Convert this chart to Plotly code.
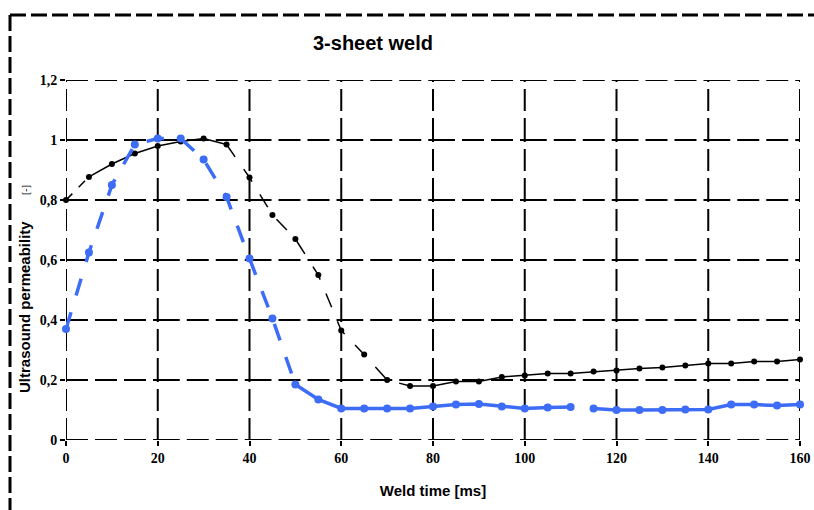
import plotly.graph_objects as go

# Weld time samples [ms]
weld_time = list(range(0, 165, 5))

# Ultrasound permeability, black series
perm_black = [0.80, 0.877, 0.92, 0.955, 0.98, 0.995, 1.005, 0.985, 0.875, 0.75,
              0.67, 0.55, 0.365, 0.285, 0.20, 0.18, 0.18, 0.195, 0.195, 0.21,
              0.215, 0.222, 0.222, 0.228, 0.232, 0.238, 0.242, 0.248, 0.255,
              0.255, 0.262, 0.262, 0.268]

# Ultrasound permeability, blue series
perm_blue = [0.37, 0.625, 0.85, 0.985, 1.005, 1.005, 0.935, 0.81, 0.605, 0.405,
             0.185, 0.135, 0.105, 0.105, 0.105, 0.105, 0.112, 0.118, 0.12, 0.112,
             0.105, 0.108, 0.11, 0.105, 0.10, 0.10, 0.10, 0.102, 0.102, 0.118,
             0.118, 0.115, 0.118]

x_ticks = list(range(0, 161, 20))
y_ticks = [0, 0.2, 0.4, 0.6, 0.8, 1.0, 1.2]
y_tick_text = ["0", "0,2", "0,4", "0,6", "0,8", "1", "1,2"]

BLUE = "#3d6cf7"
BLACK = "#000000"
GRID_DASH = "22px,7px"

fig = go.Figure()

# dashed grid: each cell edge is its own segment so the dash pattern
# restarts at every grid crossing
grid_shapes = []
for xv in x_ticks:
    for y0, y1 in zip(y_ticks[:-1], y_ticks[1:]):
        grid_shapes.append(dict(type="line", xref="x", yref="y", x0=xv, x1=xv, y0=y0, y1=y1,
                                line=dict(color=BLACK, width=2, dash=GRID_DASH), layer="below"))
for yv in y_ticks:
    for x0, x1 in zip(x_ticks[:-1], x_ticks[1:]):
        grid_shapes.append(dict(type="line", xref="x", yref="y", x0=x0, x1=x1, y0=yv, y1=yv,
                                line=dict(color=BLACK, width=2, dash=GRID_DASH), layer="below"))

# black curve: line style changes along the curve (index ranges)
black_segments = [(0, 1, "dash"), (1, 7, "solid"), (7, 15, "longdash"), (15, 32, "solid")]
for a, b, d in black_segments:
    fig.add_trace(go.Scatter(
        x=weld_time[a:b + 1], y=perm_black[a:b + 1], mode="lines",
        line=dict(color=BLACK, width=1.5, dash=d), showlegend=False, hoverinfo="skip"))
fig.add_trace(go.Scatter(
    x=weld_time, y=perm_black, mode="markers", cliponaxis=False,
    marker=dict(color=BLACK, size=6), showlegend=False))

# blue curve: dashed during the drop, solid plateau with a small break
blue_segments = [(0, 10, "longdash"), (10, 22, "solid"), (23, 32, "solid")]
for a, b, d in blue_segments:
    fig.add_trace(go.Scatter(
        x=weld_time[a:b + 1], y=perm_blue[a:b + 1], mode="lines",
        line=dict(color=BLUE, width=3.5, dash=d), showlegend=False, hoverinfo="skip"))
fig.add_trace(go.Scatter(
    x=weld_time, y=perm_blue, mode="markers", cliponaxis=False,
    marker=dict(color=BLUE, size=8), showlegend=False))

tick_font = dict(family="Liberation Serif, Times New Roman, serif", size=14, color=BLACK)

fig.update_xaxes(
    range=[x_ticks[0], x_ticks[-1]], tickvals=x_ticks, ticktext=["<b>%d</b>" % t for t in x_ticks],
    showgrid=False, zeroline=False, showline=False, automargin=False, ticks="outside",
    ticklen=5, tickwidth=2, tickcolor=BLACK, tickfont=tick_font,
    title=dict(text="<b>Weld time [ms]</b>", standoff=20,
               font=dict(family="Liberation Sans, Arial, sans-serif", size=15, color=BLACK)))
fig.update_yaxes(
    range=[y_ticks[0], y_ticks[-1]], tickvals=y_ticks, ticktext=["<b>%s</b>" % t for t in y_tick_text],
    showgrid=False, zeroline=False, showline=False, automargin=False, ticks="outside",
    ticklen=5, tickwidth=2, tickcolor=BLACK, tickfont=tick_font)

frame_shapes = [
    dict(type="line", xref="paper", yref="paper",
         x0=(10 - 66) / 734, x1=(820 - 66) / 734,
         y0=(440 - 15) / 360, y1=(440 - 15) / 360,
         line=dict(color=BLACK, width=3, dash="16px,5px")),
    dict(type="line", xref="paper", yref="paper",
         x0=(10 - 66) / 734, x1=(10 - 66) / 734,
         y0=(440 - 15) / 360, y1=(440 - 515) / 360,
         line=dict(color=BLACK, width=3, dash="16px,5px")),
]

fig.update_layout(
    width=814, height=510, margin=dict(l=66, r=14, t=80, b=70),
    paper_bgcolor="white", plot_bgcolor="white",
    title=dict(text="<b>3-sheet weld</b>", x=373 / 814, xanchor="center",
               y=1 - 43 / 510, yanchor="middle",
               font=dict(family="Liberation Sans, Arial, sans-serif", size=20, color=BLACK)),
    annotations=[
        dict(text="<b>Ultrasound permeability</b>", xref="paper", yref="paper",
             x=(24 - 66) / 734, y=(440 - 307) / 360, textangle=-90, showarrow=False,
             xanchor="center", yanchor="middle",
             font=dict(family="Liberation Sans, Arial, sans-serif", size=15, color=BLACK)),
        dict(text="[-]", xref="paper", yref="paper",
             x=(25 - 66) / 734, y=(440 - 190) / 360, textangle=-90, showarrow=False,
             xanchor="center", yanchor="middle",
             font=dict(family="Liberation Serif, serif", size=10, color=BLACK)),
    ],
    shapes=grid_shapes + frame_shapes,
)

fig.write_html("out.html")
